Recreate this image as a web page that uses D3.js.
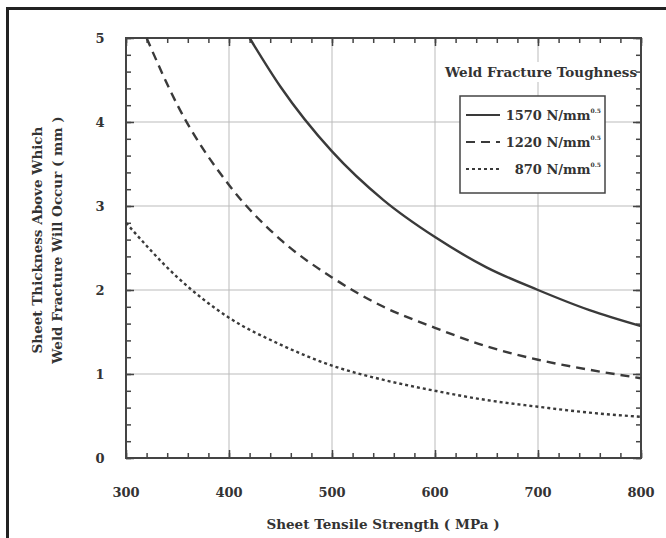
<!DOCTYPE html>
<html>
<head>
<meta charset="utf-8">
<script src="https://cdn.jsdelivr.net/npm/d3@7"></script>
<style>
body { margin: 0; background: #fff; }
text { font-family: "DejaVu Serif", "Liberation Serif", serif; font-weight: bold; fill: #333; }
</style>
</head>
<body>
<script>
//chart data
var seriesNames = ["1570", "1220", "870"];
var strength1570 = [420, 450, 500, 550, 600, 650, 700, 750, 800];
var thick1570 = [5.0, 4.42, 3.65, 3.07, 2.63, 2.27, 2.0, 1.76, 1.57];
var strength1220 = [320, 350, 400, 450, 500, 550, 600, 650, 700, 750, 800];
var thick1220 = [5.0, 4.2, 3.25, 2.6, 2.15, 1.8, 1.55, 1.33, 1.17, 1.05, 0.95];
var strength870 = [300, 350, 400, 450, 500, 550, 600, 650, 700, 750, 800];
var thick870 = [2.8, 2.15, 1.67, 1.35, 1.1, 0.93, 0.8, 0.69, 0.61, 0.54, 0.49];
var xTicks = [300, 400, 500, 600, 700, 800];
var yTicks = [0, 1, 2, 3, 4, 5];

(function(){

var width = 666, height = 538;

var svg = d3.select("body")
    .append("svg")
    .attr("width", width)
    .attr("height", height);

//outer frame (only left and top show in the picture)
svg.append("path")
    .attr("d", "M7.5," + height + "V8.5H" + width)
    .attr("fill", "none")
    .attr("stroke", "#222")
    .attr("stroke-width", 3);

var x = d3.scaleLinear().domain([300, 800]).range([126, 641]);
var y = d3.scaleLinear().domain([0, 5]).range([458, 38]);

var plot = svg.append("g");

//grid lines
plot.selectAll(".gx")
    .data(xTicks.slice(1, -1))
    .enter()
    .append("line")
    .attr("x1", function(d){ return x(d); })
    .attr("x2", function(d){ return x(d); })
    .attr("y1", y(0))
    .attr("y2", y(5))
    .attr("stroke", "#bbb")
    .attr("stroke-width", 1);

plot.selectAll(".gy")
    .data(yTicks.slice(1, -1))
    .enter()
    .append("line")
    .attr("y1", function(d){ return y(d); })
    .attr("y2", function(d){ return y(d); })
    .attr("x1", x(300))
    .attr("x2", x(800))
    .attr("stroke", "#bbb")
    .attr("stroke-width", 1);

//inward ticks on all four sides
function addAxis(axis, transform){
    var g = plot.append("g")
        .attr("transform", transform)
        .call(axis);
    g.select(".domain").remove();
    g.selectAll("text").remove();
    g.selectAll("line").attr("stroke", "#444").attr("stroke-width", 1.5);
}
var xMinor = d3.range(300, 801, 20);
var yMinor = d3.range(0, 5.01, 0.2);

addAxis(d3.axisBottom(x).tickValues(xMinor).tickSize(-5), "translate(0," + y(0) + ")");
addAxis(d3.axisBottom(x).tickValues(xTicks).tickSize(-8), "translate(0," + y(0) + ")");
addAxis(d3.axisTop(x).tickValues(xMinor).tickSize(-5), "translate(0," + y(5) + ")");
addAxis(d3.axisTop(x).tickValues(xTicks).tickSize(-8), "translate(0," + y(5) + ")");
addAxis(d3.axisLeft(y).tickValues(yMinor).tickSize(-5), "translate(" + x(300) + ",0)");
addAxis(d3.axisLeft(y).tickValues(yTicks).tickSize(-8), "translate(" + x(300) + ",0)");
addAxis(d3.axisRight(y).tickValues(yMinor).tickSize(-5), "translate(" + x(800) + ",0)");
addAxis(d3.axisRight(y).tickValues(yTicks).tickSize(-8), "translate(" + x(800) + ",0)");

//plot frame
plot.append("rect")
    .attr("x", x(300))
    .attr("y", y(5))
    .attr("width", x(800) - x(300))
    .attr("height", y(0) - y(5))
    .attr("fill", "none")
    .attr("stroke", "#444")
    .attr("stroke-width", 2);

//tick labels
svg.selectAll(".xl")
    .data(xTicks)
    .enter()
    .append("text")
    .attr("x", function(d){ return x(d); })
    .attr("y", 497)
    .attr("text-anchor", "middle")
    .style("font-size", "13px")
    .text(function(d){ return d; });

svg.selectAll(".yl")
    .data(yTicks)
    .enter()
    .append("text")
    .attr("x", 100)
    .attr("y", function(d){ return y(d) + 5; })
    .attr("text-anchor", "middle")
    .style("font-size", "13px")
    .text(function(d){ return d; });

//axis titles
svg.append("text")
    .attr("x", 383)
    .attr("y", 529)
    .attr("text-anchor", "middle")
    .style("font-size", "13.5px")
    .text("Sheet Tensile Strength ( MPa )");

var yTitle = svg.append("text")
    .attr("transform", "translate(42,240) rotate(-90)")
    .attr("text-anchor", "middle")
    .style("font-size", "13.5px");
yTitle.append("tspan").attr("x", 0).attr("dy", 0).text("Sheet Thickness Above Which");
yTitle.append("tspan").attr("x", 0).attr("dy", 20).text("Weld Fracture Will Occur ( mm )");

//curves
var series = [
    {name: seriesNames[0], xs: strength1570, ys: thick1570, dash: null},
    {name: seriesNames[1], xs: strength1220, ys: thick1220, dash: "9,6"},
    {name: seriesNames[2], xs: strength870, ys: thick870, dash: "3,3"}
];

var line = d3.line()
    .x(function(d){ return x(d[0]); })
    .y(function(d){ return y(d[1]); })
    .curve(d3.curveMonotoneX);

series.forEach(function(s){
    var pts = s.xs.map(function(v, i){ return [v, s.ys[i]]; });
    plot.append("path")
        .datum(pts)
        .attr("d", line)
        .attr("fill", "none")
        .attr("stroke", "#3a3a3a")
        .attr("stroke-width", 2.4)
        .attr("stroke-dasharray", s.dash);
});

//legend
svg.append("rect")
    .attr("x", 436)
    .attr("y", 62)
    .attr("width", 200)
    .attr("height", 20)
    .attr("fill", "#fff");

svg.append("text")
    .attr("x", 637)
    .attr("y", 77)
    .attr("text-anchor", "end")
    .style("font-size", "13.5px")
    .text("Weld Fracture Toughness");

svg.append("rect")
    .attr("x", 460)
    .attr("y", 96)
    .attr("width", 145)
    .attr("height", 97)
    .attr("fill", "#fff")
    .attr("stroke", "#444")
    .attr("stroke-width", 1.5);

series.forEach(function(s, i){
    var ly = 120 + i * 27;
    svg.append("line")
        .attr("x1", 466)
        .attr("x2", 500)
        .attr("y1", ly - 5)
        .attr("y2", ly - 5)
        .attr("stroke", "#3a3a3a")
        .attr("stroke-width", 2)
        .attr("stroke-dasharray", s.dash);
    var t = svg.append("text")
        .attr("x", 601)
        .attr("y", ly)
        .attr("text-anchor", "end")
        .style("font-size", "13px");
    t.append("tspan").text(s.name + " N/mm");
    t.append("tspan")
        .attr("dy", -7)
        .style("font-size", "6px")
        .text("0.5");
});

})();
</script>
</body>
</html>
